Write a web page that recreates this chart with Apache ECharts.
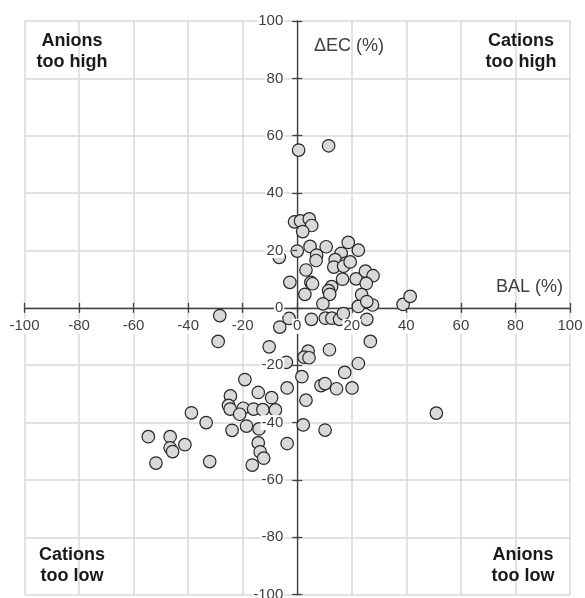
<!DOCTYPE html>
<html>
<head>
<meta charset="utf-8">
<script src="https://cdn.jsdelivr.net/npm/echarts@6/dist/echarts.min.js"></script>
<style>
  html, body { margin: 0; padding: 0; background: #fff; }
  #chart { width: 585px; height: 598px; }
</style>
</head>
<body>
<div id="chart"></div>
<script>
// BAL (%) and ΔEC (%) per sample, same order
const bal = [
  0.5, 11.5, -1, 1.2, 4.4, 5.3, 2, 0, -6.6, 4.7,
  10.6, 18.7, 22.4, 7.1, 6.9, 16.1, 13.9, 17.8, 13.4, 17,
  19.4, 3.2, -2.7, 5, 5.6, 16.6, 21.6, 25, 27.8, 25.3,
  12.6, 11.5, 11.9, 2.8, 23.6, 9.4, 22.4, 27.6, 25.5, 38.8,
  41.4, -28.4, -3, -6.4, 5.2, 10.3, 12.7, 15.5, 16.9, 25.5,
  -29, -10.3, 26.8, 4, 11.8, 2.5, 4.3, -4, 22.4, 17.4,
  1.7, -19.2, -3.7, 8.7, 10.2, 14.4, 20.1, -14.3, -9.4, 3.2,
  -24.5, -25.2, -24.6, -19.8, -16, -12.6, -8, -21.1, -38.8, -33.4,
  -23.9, -18.6, -14, 2.2, 10.2, 51, -54.6, -46.6, -46.6, -45.7,
  -41.2, -51.8, -32.1, -14.3, -13.6, -12.3, -16.5, -3.7
];
const dEC = [
  55, 56.5, 30, 30.3, 31, 28.7, 26.6, 19.8, 17.6, 21.4,
  21.3, 22.8, 20.1, 18.4, 16.5, 19, 16.8, 15.6, 14.2, 14.5,
  16, 13.2, 8.9, 8.9, 8.4, 10, 10.1, 12.8, 11.2, 8.5,
  7.4, 6, 4.7, 4.7, 4.6, 1.4, 0.5, 1, 2.2, 1.2,
  4, -2.7, -3.7, -6.7, -4, -3.6, -3.6, -4, -2, -4,
  -11.7, -13.6, -11.7, -15.1, -14.6, -17.2, -17.4, -19, -19.4, -22.5,
  -24, -25, -27.9, -27.1, -26.4, -28.2, -27.9, -29.5, -31.3, -32.2,
  -30.7, -34, -35.3, -35, -35.3, -35.5, -35.6, -37.1, -36.6, -40,
  -42.7, -41.2, -42.2, -40.8, -42.6, -36.7, -44.9, -44.9, -48.8, -50.1,
  -47.7, -54.1, -53.6, -47.1, -50.2, -52.4, -54.8, -47.3
];

const axisMin = -100;
const axisMax = 100;
const axisStep = 20;

const quadrantLabels = [
  { text: 'Anions\ntoo high', x: 72, y: 52 },
  { text: 'Cations\ntoo high', x: 521, y: 52 },
  { text: 'Cations\ntoo low', x: 72, y: 566 },
  { text: 'Anions\ntoo low', x: 523, y: 566 }
];

const W = 585, H = 598;
const font = 'Liberation Sans, Arial, sans-serif';
const textColor = '#404040';
const axisColor = '#404040';

const chart = echarts.init(document.getElementById('chart'), null, { renderer: 'canvas' });

// main plot box; the label axes sit in helper grids whose edge falls on the zero lines
const box = { left: 24.5, right: 15, top: 21, bottom: 3.3 };
const zeroX = box.left + (W - box.left - box.right) * (0 - axisMin) / (axisMax - axisMin);
const zeroY = box.top + (H - box.top - box.bottom) * (axisMax - 0) / (axisMax - axisMin);

const gridCommon = { containLabel: false, outerBoundsMode: 'none' };

const baseAxis = {
  type: 'value',
  min: axisMin,
  max: axisMax,
  interval: axisStep
};

const hiddenAxis = (gridIndex) => Object.assign({}, baseAxis, {
  gridIndex: gridIndex,
  show: false,
  axisLine: { show: false, onZero: false },
  splitLine: { show: false }
});

const labelStyle = {
  show: true, color: textColor, fontFamily: font, fontSize: 15,
  showMinLabel: true, showMaxLabel: true,
  backgroundColor: '#fff', padding: [0, 1]
};

const option = {
  animation: false,
  backgroundColor: '#fff',
  grid: [
    Object.assign({}, gridCommon, box),
    // x labels: bottom edge on y = 0
    Object.assign({}, gridCommon, { left: box.left, right: box.right, top: box.top, bottom: H - zeroY }),
    // y labels: left edge on x = 0
    Object.assign({}, gridCommon, { left: zeroX, right: box.right, top: box.top, bottom: box.bottom })
  ],
  xAxis: [
    Object.assign({}, baseAxis, {
      gridIndex: 0,
      position: 'bottom',
      z: 0,
      axisLine: { onZero: true, lineStyle: { color: axisColor, width: 1.3 } },
      axisTick: { show: true, inside: true, length: 5, lineStyle: { color: axisColor, width: 1.3 } },
      axisLabel: { show: false },
      splitLine: { show: true, lineStyle: { color: '#d9d9d9', width: 1.5 } }
    }),
    Object.assign({}, baseAxis, {
      gridIndex: 1,
      position: 'bottom',
      z: 5,
      axisLine: { show: false, onZero: false },
      axisTick: { show: true, inside: false, length: 5, lineStyle: { color: axisColor, width: 1.3 } },
      axisLabel: Object.assign({ margin: 11 }, labelStyle),
      splitLine: { show: false }
    }),
    hiddenAxis(2)
  ],
  yAxis: [
    Object.assign({}, baseAxis, {
      gridIndex: 0,
      position: 'left',
      z: 0,
      axisLine: { onZero: true, lineStyle: { color: axisColor, width: 1.3 } },
      axisTick: { show: true, inside: true, length: 5, lineStyle: { color: axisColor, width: 1.3 } },
      axisLabel: { show: false },
      splitLine: { show: true, lineStyle: { color: '#d9d9d9', width: 1.5 } }
    }),
    hiddenAxis(1),
    Object.assign({}, baseAxis, {
      gridIndex: 2,
      position: 'left',
      z: 5,
      axisLine: { show: false, onZero: false },
      axisTick: { show: true, inside: false, length: 5, lineStyle: { color: axisColor, width: 1.3 } },
      axisLabel: Object.assign({ margin: 13 }, labelStyle),
      splitLine: { show: false }
    })
  ],
  series: [
    {
      type: 'scatter',
      xAxisIndex: 0,
      yAxisIndex: 0,
      z: 2,
      symbol: 'circle',
      symbolSize: 12.5,
      itemStyle: { color: '#d9d9d9', borderColor: '#262626', borderWidth: 1.2, opacity: 1 },
      data: bal.map((v, i) => [v, dEC[i]])
    }
  ],
  graphic: quadrantLabels.map(q => ({
    type: 'text',
    x: q.x,
    y: q.y,
    z: 10,
    style: {
      text: q.text,
      fill: '#1a1a1a',
      font: 'bold 18px ' + font,
      lineHeight: 21,
      align: 'center',
      verticalAlign: 'middle'
    }
  })).concat([
    {
      type: 'text', x: 349, y: 46, z: 10,
      style: { text: 'ΔEC (%)', fill: textColor, font: '18px ' + font, align: 'center', verticalAlign: 'middle' }
    },
    {
      type: 'text', x: 563, y: 287, z: 10,
      style: { text: 'BAL (%)', fill: textColor, font: '18px ' + font, align: 'right', verticalAlign: 'middle' }
    }
  ])
};

chart.setOption(option);
</script>
</body>
</html>
